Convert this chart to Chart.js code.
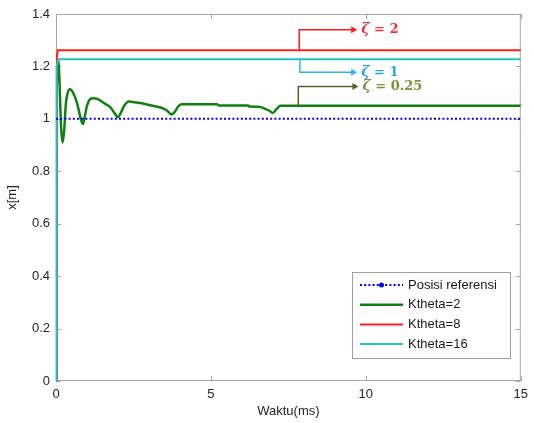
<!DOCTYPE html>
<html><head><meta charset="utf-8">
<script src="https://cdn.jsdelivr.net/npm/chart.js@4/dist/chart.umd.min.js"></script>
<style>html,body{margin:0;padding:0;background:#fff}#wrap{width:534px;height:423px}</style>
</head><body><div id="wrap"><canvas id="c" width="534" height="423"></canvas></div>
<script>
// ---- data ----
const seriesLabels = ['Posisi referensi','Ktheta=2','Ktheta=8','Ktheta=16'];
const refT = [0, 15];
const refX = [1, 1];
const k2T = [0,0.01,0.05,0.08,0.11,0.16,0.21,0.26,0.32,0.38,0.45,0.55,0.68,0.8,0.87,0.93,1.0,1.1,1.2,1.35,1.55,1.75,1.9,2.0,2.08,2.2,2.35,2.6,2.9,3.2,3.45,3.6,3.72,3.82,3.95,4.05,5.2,5.25,6.2,6.25,6.55,6.75,6.9,7.0,7.1,7.25,15];
const k2X = [0,0.95,1.2,1.225,1.15,0.98,0.91,0.95,1.06,1.10,1.113,1.10,1.06,1.0,0.98,1.01,1.05,1.075,1.079,1.075,1.06,1.045,1.02,1.006,1.02,1.05,1.066,1.062,1.056,1.048,1.04,1.03,1.017,1.025,1.048,1.056,1.056,1.051,1.051,1.047,1.046,1.038,1.03,1.022,1.035,1.05,1.05];
const k8T = [0,0.03,0.06,15];
const k8X = [0,1.24,1.262,1.262];
const k16T = [0,0.02,0.08,15];
const k16X = [0,1.2,1.227,1.227];
const xTicks = [0,5,10,15];
const yTicks = [0,0.2,0.4,0.6,0.8,1,1.2,1.4];
// annotations (data coordinates)
const annotText = ['2','1','0.25'];
const annotFromY = [1.262,1.227,1.05];
const annotToY = [1.34,1.178,1.123];
const annotStartT = [7.85,7.87,7.82];
const annotEndT = [9.72,9.72,9.76];

const pts = (t,x)=>t.map((v,i)=>({x:v,y:x[i]}));

const boxPlugin = {
  id:'boxTicks',
  beforeDatasetsDraw(chart){
    const {ctx, chartArea:a, scales:{x,y}} = chart;
    ctx.save();
    ctx.strokeStyle='#a6a6a6'; ctx.lineWidth=1;
    ctx.strokeRect(a.left+0.5,a.top+0.5,a.right-a.left-1,a.bottom-a.top-1);
    ctx.beginPath();
    xTicks.forEach(v=>{const p=Math.round(x.getPixelForValue(v))+0.5;
      ctx.moveTo(p,a.bottom);ctx.lineTo(p,a.bottom-5);ctx.moveTo(p,a.top);ctx.lineTo(p,a.top+5);});
    yTicks.forEach(v=>{const p=Math.round(y.getPixelForValue(v))+0.5;
      ctx.moveTo(a.left,p);ctx.lineTo(a.left+5,p);ctx.moveTo(a.right,p);ctx.lineTo(a.right-5,p);});
    ctx.stroke();
    ctx.restore();
  },
  afterDatasetsDraw(chart){
    const {ctx, scales:{x,y}} = chart;
    ctx.save();
    // annotations
    const lineCols=['#ff1a1a','#33b4e6','#4f6228'];
    const txtCols=['#e8343a','#29a6e0','#77933c'];
    annotText.forEach((s,i)=>{
      const x0=x.getPixelForValue(annotStartT[i]), x1=x.getPixelForValue(annotEndT[i]);
      const y0=y.getPixelForValue(annotFromY[i]), y1=y.getPixelForValue(annotToY[i]);
      ctx.strokeStyle=lineCols[i]; ctx.fillStyle=lineCols[i]; ctx.lineWidth=1.5;
      ctx.beginPath(); ctx.moveTo(x0,y0); ctx.lineTo(x0,y1); ctx.lineTo(x1-5,y1); ctx.stroke();
      ctx.beginPath(); ctx.moveTo(x1,y1); ctx.lineTo(x1-6,y1-3.5); ctx.lineTo(x1-6,y1+3.5); ctx.closePath(); ctx.fill();
      ctx.fillStyle=txtCols[i]; ctx.textBaseline='middle'; ctx.textAlign='left';
      ctx.font="bold italic 14px 'DejaVu Serif'";
      ctx.fillText('ζ',x1+4,y1);
      const w=ctx.measureText('ζ').width;
      ctx.font="bold 13px 'DejaVu Serif'";
      ctx.fillText(' = '+s,x1+4+w,y1);
    });
    // legend
    const L=352,T=272,W=158,H=86;
    ctx.fillStyle='#fff'; ctx.fillRect(L,T,W,H);
    ctx.strokeStyle='#a0a0a0'; ctx.lineWidth=1; ctx.strokeRect(L+0.5,T+0.5,W,H);
    ctx.font="13px 'Liberation Sans', Arial, sans-serif"; ctx.textBaseline='middle';
    chart.data.datasets.forEach((ds,i)=>{
      const yy=285+i*19.7;
      ctx.strokeStyle=ds.borderColor; ctx.lineWidth=ds.borderWidth;
      ctx.setLineDash(ds.borderDash||[]);
      ctx.beginPath(); ctx.moveTo(360,yy); ctx.lineTo(403,yy); ctx.stroke();
      ctx.setLineDash([]);
      if(i===0){ctx.fillStyle=ds.borderColor;ctx.beginPath();ctx.arc(381.5,yy,2.5,0,Math.PI*2);ctx.fill();}
      ctx.fillStyle='#1a1a1a'; ctx.fillText(ds.label,408,yy);
    });
    ctx.restore();
  }
};

new Chart(document.getElementById('c'),{
  type:'line',
  data:{datasets:[
    {label:seriesLabels[0],data:pts(refT,refX),borderColor:'#0000ff',borderWidth:2,borderDash:[2,2.2],pointRadius:0,order:0},
    {label:seriesLabels[1],data:pts(k2T,k2X),borderColor:'#108010',borderWidth:2.5,pointRadius:0,cubicInterpolationMode:'monotone',order:3},
    {label:seriesLabels[2],data:pts(k8T,k8X),borderColor:'#ff2020',borderWidth:2,pointRadius:0,order:2,clip:false},
    {label:seriesLabels[3],data:pts(k16T,k16X),borderColor:'#1fc4c4',borderWidth:2,pointRadius:0,order:1,clip:false}
  ]},
  options:{
    responsive:false,animation:false,
    layout:{padding:{left:0,top:14,right:12,bottom:0}},
    plugins:{legend:{display:false},tooltip:{enabled:false}},
    scales:{
      x:{type:'linear',min:0,max:15,
        afterBuildTicks:s=>{s.ticks=xTicks.map(v=>({value:v}));},
        afterFit:s=>{s.height=42;},
        grid:{display:false,drawTicks:false,tickLength:0},border:{display:false},
        ticks:{padding:6,color:'#262626',font:{family:"'Liberation Sans', Arial, sans-serif",size:13},maxRotation:0},
        title:{display:true,text:'Waktu(ms)',color:'#262626',padding:{top:0,bottom:4},font:{family:"'Liberation Sans', Arial, sans-serif",size:13}}},
      y:{min:0,max:1.4,
        afterBuildTicks:s=>{s.ticks=yTicks.map(v=>({value:v}));},
        afterFit:s=>{s.width=56;},
        grid:{display:false,drawTicks:false,tickLength:0},border:{display:false},
        ticks:{padding:6,color:'#262626',font:{family:"'Liberation Sans', Arial, sans-serif",size:13},
          callback:v=>String(Number(v.toFixed(1)))},
        title:{display:true,text:'x[m]',color:'#262626',padding:{top:5,bottom:0},font:{family:"'Liberation Sans', Arial, sans-serif",size:13}}}
    }
  },
  plugins:[boxPlugin]
});
</script></body></html>
